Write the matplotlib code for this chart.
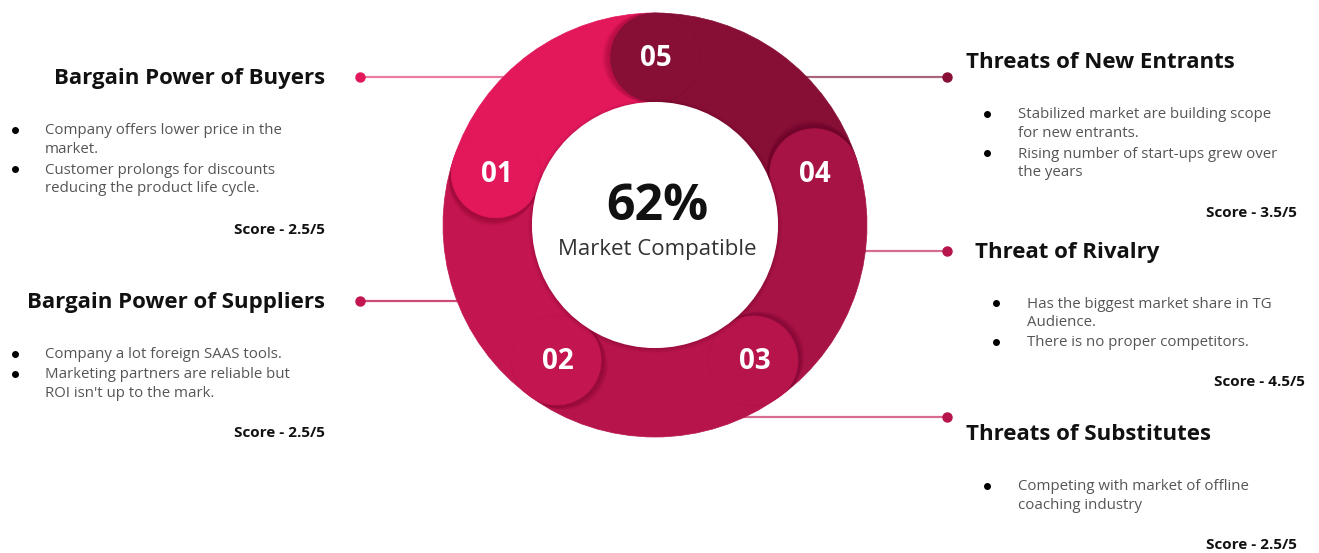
import numpy as np
import matplotlib

matplotlib.use("Agg")
import matplotlib.pyplot as plt
from matplotlib.patches import Wedge, Circle

plt.rcParams["font.family"] = ["Open Sans", "DejaVu Sans"]

W, H = 1319, 553

# ring segments (numbered caps), listed in drawing order round the ring
seg_labels = ["01", "02", "03", "04", "05"]
seg_angles = [162, -126, -54, 18, 90]          # cap position, degrees (ccw from +x)
seg_colors = ["#E2185B", "#C3154F", "#B6144A", "#A81346", "#870E35"]

center_value = "62%"
center_caption = "Market Compatible"

# five-forces panels
left_titles = ["Bargain Power of Buyers", "Bargain Power of Suppliers"]
left_bullets = [
    ["Company offers lower price in the\nmarket.",
     "Customer prolongs for discounts\nreducing the product life cycle."],
    ["Company a lot foreign SAAS tools.",
     "Marketing partners are reliable but\nROI isn't up to the mark."],
]
left_scores = ["Score - 2.5/5", "Score - 2.5/5"]

right_titles = ["Threats of New Entrants", "Threat of Rivalry", "Threats of Substitutes"]
right_bullets = [
    ["Stabilized market are building scope\nfor new entrants.",
     "Rising number of start-ups grew over\nthe years"],
    ["Has the biggest market share in TG\nAudience.",
     "There is no proper competitors."],
    ["Competing with market of offline\ncoaching industry"],
]
right_scores = ["Score - 3.5/5", "Score - 4.5/5", "Score - 2.5/5"]

fig = plt.figure(figsize=(W / 100, H / 100), dpi=100)
ax = fig.add_axes([0, 0, 1, 1])
ax.set_xlim(0, W)
ax.set_ylim(H, 0)
ax.set_aspect("equal")
ax.axis("off")

cx, cy = 655, 225
r_out, r_in = 212, 123
band = r_out - r_in
r_mid = (r_out + r_in) / 2

# connector lines with end dots (drawn under the ring)
connectors = [
    # (x_dot, y, line colour, dot colour)
    (360, 77, "#EA7CA0", "#E2185B"),
    (360, 301, "#CC4A74", "#C3154F"),
    (947, 77, "#A9637B", "#870E35"),
    (947, 251, "#D66C92", "#B6144A"),
    (947, 417, "#D66C92", "#B6144A"),
]
for xd, y, lc, dc in connectors:
    ax.plot([xd, cx], [y, y], color=lc, lw=1.6, zorder=1, solid_capstyle="butt")
    ax.plot(xd, y, "o", color=dc, ms=6.5, zorder=2)

# ring bodies: each runs 72 deg clockwise from its cap (y axis is flipped)
for ang, col in zip(seg_angles, seg_colors):
    ax.add_patch(Wedge((cx, cy), r_out, -ang, -ang + 72, width=band,
                       facecolor=col, edgecolor=col, lw=0.5, zorder=3))

ring_clip = Wedge((cx, cy), r_out, 0, 360, width=band, transform=ax.transData)

# rounded caps with a soft shadow falling on the neighbouring body
for lab, ang, col in zip(seg_labels, seg_angles, seg_colors):
    t = np.deg2rad(ang)
    px, py = cx + r_mid * np.cos(t), cy - r_mid * np.sin(t)
    # tangent pointing towards the body the cap overlaps
    tx, ty = -np.sin(t), -np.cos(t)
    for k in range(10):
        off = 1 + k * 0.9
        sh = Circle((px + tx * off, py + ty * off), band / 2 + 2 - k * 0.3,
                    facecolor="black", alpha=0.016, lw=0, zorder=4)
        ax.add_patch(sh)
        sh.set_clip_path(ring_clip)
    ax.add_patch(Circle((px, py), band / 2, facecolor=col, edgecolor=col,
                        lw=0.5, zorder=5))
    ax.text(px + 1, py + 1, lab, color="white", fontsize=20, fontweight="bold",
            ha="center", va="center", zorder=6)

# white centre with a faint rim shade
for k in range(6):
    ax.add_patch(Circle((cx, cy + 1), r_in + 4 - k * 0.8, facecolor="black",
                        alpha=0.02, lw=0, zorder=6))
ax.add_patch(Circle((cx, cy), r_in, facecolor="white", lw=0, zorder=7))
ax.text(cx + 2, 207, center_value, fontsize=36, fontweight="bold", color="#111111",
        ha="center", va="center", zorder=8)
ax.text(cx + 2, 250, center_caption, fontsize=16, color="#333333",
        ha="center", va="center", zorder=8)


def draw_block(title, bullets, score, title_xy, title_ha, bullet_x, text_x,
               first_y, score_xy):
    ax.text(title_xy[0], title_xy[1] + 1.5, title, fontsize=16, fontweight="bold",
            color="#111111", ha=title_ha, va="center")
    y = first_y
    for b in bullets:
        ax.plot(bullet_x, y, "o", color="black", ms=4)
        ax.text(text_x, y - 6.5, b, fontsize=10.8, color="#555555", ha="left",
                va="top", linespacing=1.32)
        y += 19.5 * (b.count("\n") + 1)
    ax.text(*score_xy, score, fontsize=11, fontweight="bold", color="#111111",
            ha="right", va="center")


left_layout = [((325, 77), 130, (325, 230)), ((325, 301), 354, (325, 433))]
for title, bl, sc, (txy, fy, sxy) in zip(left_titles, left_bullets, left_scores,
                                        left_layout):
    draw_block(title, bl, sc, txy, "right", 15, 45, fy, sxy)

right_layout = [((966, 61), 114, (1297, 213), 0),
                ((975, 251), 303, (1305, 382), 9),
                ((966, 433), 486, (1297, 545), 0)]
for title, bl, sc, (txy, fy, sxy, dx) in zip(right_titles, right_bullets,
                                            right_scores, right_layout):
    draw_block(title, bl, sc, txy, "left", 987 + dx, 1018 + dx, fy, sxy)

fig.savefig("out.png", dpi=100)
